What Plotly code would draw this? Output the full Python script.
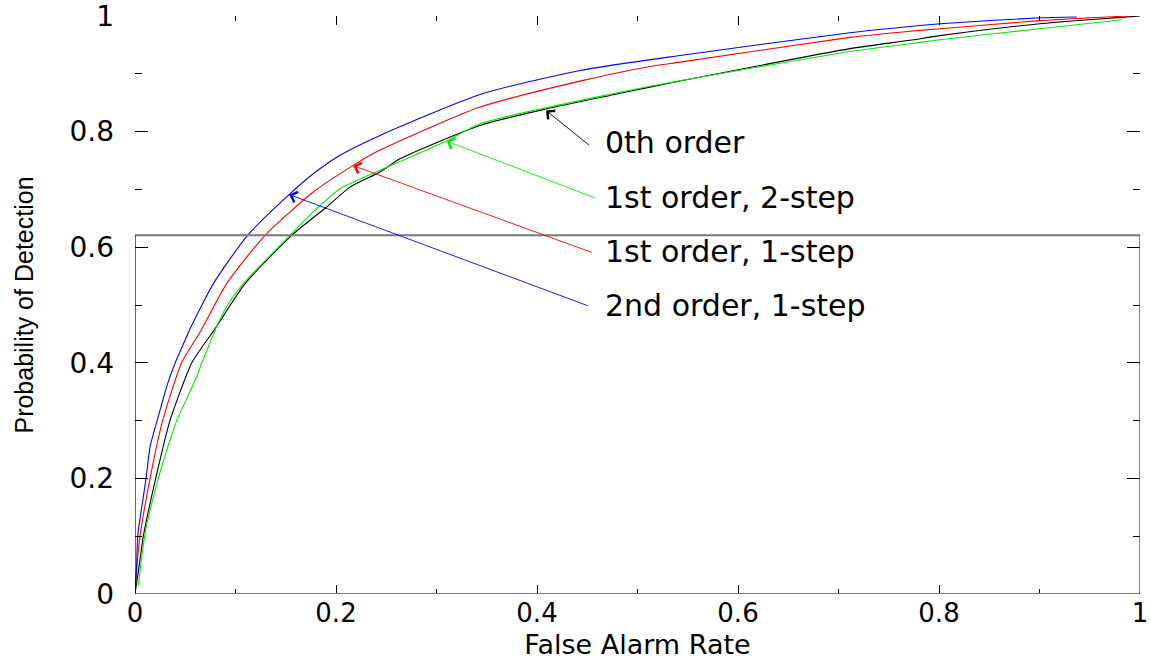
import plotly.graph_objects as go

# ---- data ----
fa_0th = [0, 0.0045, 0.0083, 0.0206, 0.0348, 0.0565, 0.0715, 0.0785, 0.1095, 0.1559, 0.1907,
          0.2139, 0.2438, 0.2637, 0.3433, 0.4096, 0.476, 0.5124, 0.5423, 0.7114, 0.7711,
          0.801, 0.9005, 1.0]
pd_0th = [0, 0.053, 0.1, 0.2, 0.3, 0.4, 0.439, 0.456, 0.537, 0.6206, 0.6696,
          0.704, 0.730, 0.753, 0.8107, 0.8395, 0.8638, 0.877, 0.8874, 0.9435, 0.958,
          0.966, 0.9866, 1.0]

fa_1st2 = [0.0033, 0.0106, 0.0232, 0.0348, 0.0415, 0.0614, 0.0664, 0.0697, 0.0796, 0.091,
           0.1078, 0.1542, 0.1774, 0.204, 0.2421, 0.310, 0.3433, 0.4627, 0.5124, 0.5423,
           0.7114, 0.7711, 0.801, 0.9005, 0.982]
pd_1st2 = [0.015, 0.11, 0.2, 0.266, 0.3, 0.376, 0.4, 0.413, 0.456, 0.497,
           0.537, 0.6206, 0.661, 0.701, 0.732, 0.7836, 0.8136, 0.861, 0.8786, 0.888,
           0.9386, 0.952, 0.9589, 0.978, 0.9934]

fa_1st1 = [0, 0.002, 0.005, 0.015, 0.0275, 0.0464, 0.0597, 0.0657, 0.0912, 0.1294, 0.1774,
           0.2172, 0.2438, 0.3433, 0.4428, 0.5124, 0.5423, 0.7114, 0.7711, 0.801, 0.9005, 0.9884]
pd_1st1 = [0, 0.05, 0.1, 0.2, 0.3, 0.4, 0.439, 0.456, 0.537, 0.6206, 0.6955,
           0.7416, 0.768, 0.8424, 0.8873, 0.9127, 0.9202, 0.963, 0.9737, 0.978, 0.992, 1.0]

fa_2nd1 = [0, 0.0017, 0.0027, 0.011, 0.015, 0.022, 0.0325, 0.040, 0.0498, 0.054, 0.078,
           0.112, 0.1536, 0.1774, 0.204, 0.2438, 0.3433, 0.4428, 0.5423, 0.7114, 0.7711,
           0.801, 0.9005, 0.937]
pd_2nd1 = [0, 0.053, 0.1, 0.2, 0.255, 0.3, 0.364, 0.4, 0.439, 0.456, 0.537,
           0.6206, 0.6914, 0.727, 0.759, 0.7934, 0.8643, 0.9058, 0.9317, 0.971, 0.9818,
           0.9865, 0.997, 0.9983]

series_names = ["0th order", "1st order, 2-step", "1st order, 1-step", "2nd order, 1-step"]
series_colors = ["#000000", "#00ee00", "#ff0000", "#0000ff"]
series_x = [fa_0th, fa_1st2, fa_1st1, fa_2nd1]
series_y = [pd_0th, pd_1st2, pd_1st1, pd_2nd1]

# label anchor (left edge, centre), arrow tail and arrow tip, in data units
label_pos = [(0.4657, 0.7813), (0.4657, 0.6863), (0.4657, 0.5929), (0.4657, 0.4996)]
arrow_tail = [(0.4534, 0.7744), (0.4594, 0.684), (0.456, 0.590), (0.452, 0.4978)]
arrow_tip = [(0.409, 0.8366), (0.310, 0.7836), (0.2172, 0.741), (0.1536, 0.691)]

x_ticks = [0, 0.2, 0.4, 0.6, 0.8, 1]
x_tick_text = ["0", "0.2", "0.4", "0.6", "0.8", "1"]
y_ticks = [0, 0.2, 0.4, 0.6, 0.8, 1]
y_tick_text = ["0", "0.2", "0.4", "0.6", "0.8", "1"]
frame_top = 0.6206

FONT = "DejaVu Sans, Liberation Sans, Arial, sans-serif"

fig = go.Figure()
for name, col, xs, ys in zip(series_names, series_colors, series_x, series_y):
    fig.add_trace(go.Scatter(x=xs, y=ys, mode="lines", name=name,
                             line=dict(color=col, width=1.1, shape="spline", smoothing=0.6),
                             showlegend=False))

annotations = []
for name, col, lp, tl, tp in zip(series_names, series_colors, label_pos, arrow_tail, arrow_tip):
    annotations.append(dict(x=lp[0], y=lp[1], xref="x", yref="y", text=name,
                            showarrow=False, xanchor="left", yanchor="middle",
                            font=dict(family=FONT, size=30, color="black")))
    annotations.append(dict(x=tp[0], y=tp[1], ax=tl[0], ay=tl[1], xref="x", yref="y",
                            axref="x", ayref="y", text="", showarrow=True,
                            arrowhead=4, arrowsize=2.4, arrowwidth=0.9, arrowcolor=col,
                            standoff=0, startstandoff=0))

shapes = [
    dict(type="line", xref="x", yref="y", x0=0, x1=1, y0=0, y1=0,
         line=dict(color="#7a7a7a", width=2)),
    dict(type="line", xref="x", yref="y", x0=0, x1=1, y0=frame_top, y1=frame_top,
         line=dict(color="#7a7a7a", width=2)),
    dict(type="line", xref="x", yref="y", x0=0, x1=0, y0=0, y1=frame_top,
         line=dict(color="#000000", width=1.2)),
    dict(type="line", xref="x", yref="y", x0=1, x1=1, y0=0, y1=frame_top,
         line=dict(color="#333333", width=1.2)),
]

fig.update_layout(
    width=1151, height=660,
    margin=dict(l=135, r=11, t=16, b=66),
    paper_bgcolor="white", plot_bgcolor="white",
    annotations=annotations, shapes=shapes,
    font=dict(family=FONT, color="black"),
)
fig.update_xaxes(
    range=[0, 1], tickvals=x_ticks, ticktext=x_tick_text,
    showgrid=False, zeroline=False, showline=False, mirror="ticks",
    ticks="inside", ticklen=9, tickwidth=1, tickcolor="black",
    minor=dict(dtick=0.1, ticks="inside", ticklen=5, tickwidth=1, tickcolor="black", showgrid=False),
    tickfont=dict(family=FONT, size=26, color="black"), ticklabelstandoff=1,
    ticklabeloverflow="allow",
    title=dict(text="False Alarm Rate", font=dict(family=FONT, size=27, color="black"), standoff=20),
    automargin=False,
)
fig.update_yaxes(
    range=[0, 1], tickvals=y_ticks, ticktext=y_tick_text,
    showgrid=False, zeroline=False, showline=False, mirror="ticks",
    ticks="inside", ticklen=13, tickwidth=1, tickcolor="black",
    minor=dict(dtick=0.1, ticks="inside", ticklen=7, tickwidth=1, tickcolor="black", showgrid=False),
    tickfont=dict(family=FONT, size=28, color="black"), ticklabelstandoff=20,
    ticklabeloverflow="allow",
    title=dict(text="Probability of Detection",
               font=dict(family="Liberation Sans, Arial, sans-serif", size=25, color="black"),
               standoff=28),
    automargin=False,
)

fig.write_html("out.html")
